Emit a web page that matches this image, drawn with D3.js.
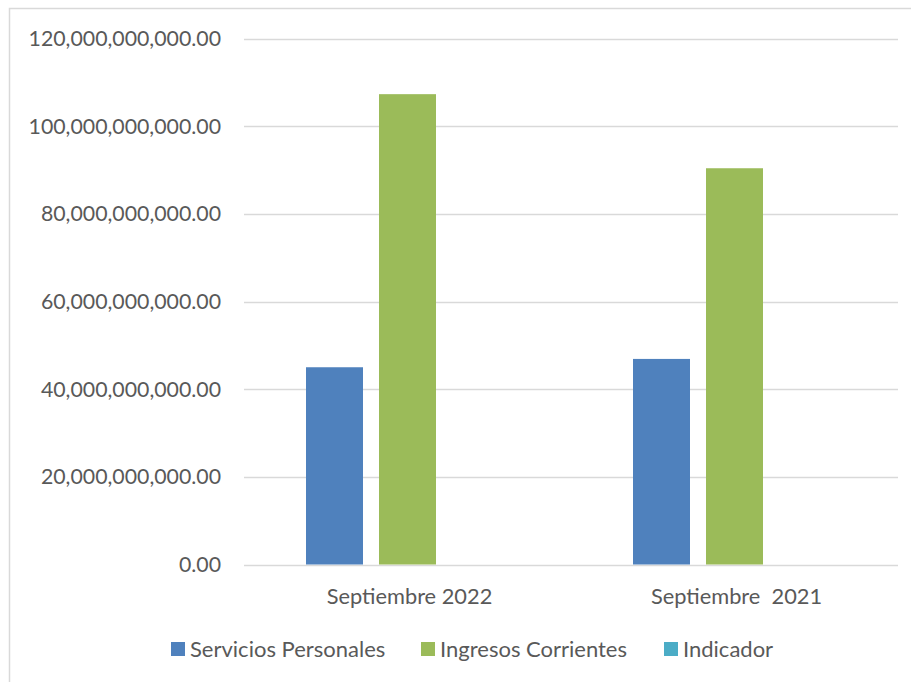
<!DOCTYPE html>
<html>
<head>
<meta charset="utf-8">
<script src="https://cdn.jsdelivr.net/npm/d3@7"></script>
<style>
  body { margin: 0; background: #fff; }
  svg text { font-family: Lato, "Open Sans", sans-serif; fill: #595959; }
</style>
</head>
<body>
<div id="chart"></div>
<script>
var width = 911;
var height = 682;

// data
var categories = ["Septiembre 2022", "Septiembre  2021"];
var seriesNames = ["Servicios Personales", "Ingresos Corrientes", "Indicador"];
var serviciosPersonales = [45.0e9, 46.9e9];
var ingresosCorrientes = [107.3e9, 90.4e9];
var indicador = [0, 0];
var yTicks = [0, 20e9, 40e9, 60e9, 80e9, 100e9, 120e9];
var colors = ["#4F81BD", "#9BBB59", "#4BACC6"];

var seriesValues = [serviciosPersonales, ingresosCorrientes, indicador];

var plot = {left: 244, right: 898, top: 38.5, bottom: 564.5};

var svg = d3.select("#chart").append("svg")
    .attr("width", width)
    .attr("height", height);

// chart frame
svg.append("rect")
    .attr("x", 9.5).attr("y", 8.5)
    .attr("width", width + 20).attr("height", height + 20)
    .attr("fill", "none")
    .attr("stroke", "#D9D9D9")
    .attr("stroke-width", 1.5);

var y = d3.scaleLinear()
    .domain([0, 120e9])
    .range([plot.bottom, plot.top]);

var x0 = d3.scaleBand()
    .domain(categories)
    .range([plot.left, plot.right])
    .paddingInner(0)
    .paddingOuter(0);

// bars 57px wide, 16px apart, group of 3 centred in each band
var barW = 57, barGap = 16;
var groupW = seriesNames.length * barW + (seriesNames.length - 1) * barGap;

// gridlines
svg.append("g").selectAll("line")
    .data(yTicks)
  .enter().append("line")
    .attr("x1", plot.left).attr("x2", plot.right)
    .attr("y1", function(d) { return Math.round(y(d)) + 0.5; })
    .attr("y2", function(d) { return Math.round(y(d)) + 0.5; })
    .attr("stroke", "#D9D9D9")
    .attr("stroke-width", 1.5);

// y labels
var fmt = d3.format(",.2f");
svg.append("g").selectAll("text")
    .data(yTicks)
  .enter().append("text")
    .attr("x", 221)
    .attr("y", function(d) { return y(d) + 7.5; })
    .attr("text-anchor", "end")
    .style("font-size", "21.3px")
    .text(function(d) { return fmt(d); });

// bars
var groups = svg.append("g").selectAll("g")
    .data(categories)
  .enter().append("g");

groups.selectAll("rect")
    .data(function(c, i) {
      return seriesValues.map(function(vals, s) { return {cat: c, s: s, v: vals[i]}; });
    })
  .enter().append("rect")
    .attr("x", function(d) {
      return x0(d.cat) + (x0.bandwidth() - groupW) / 2 + d.s * (barW + barGap);
    })
    .attr("y", function(d) { return y(d.v); })
    .attr("width", barW)
    .attr("height", function(d) { return y(0) - y(d.v); })
    .attr("fill", function(d) { return colors[d.s]; });

// category labels
svg.append("g").selectAll("text")
    .data(categories)
  .enter().append("text")
    .attr("x", function(d) { return x0(d) + x0.bandwidth() / 2 + 2; })
    .attr("y", 603.5)
    .attr("text-anchor", "middle")
    .style("font-size", "21.8px")
    .style("white-space", "pre")
    .attr("xml:space", "preserve")
    .text(function(d) { return d; });

// legend
var legendX = [171, 421, 664];
var legend = svg.append("g").selectAll("g")
    .data(seriesNames)
  .enter().append("g")
    .attr("transform", function(d, i) { return "translate(" + legendX[i] + ",642)"; });

legend.append("rect")
    .attr("width", 14).attr("height", 14)
    .attr("fill", function(d, i) { return colors[i]; });

legend.append("text")
    .attr("x", 19)
    .attr("y", 15)
    .style("font-size", "22px")
    .text(function(d) { return d; });
</script>
</body>
</html>
